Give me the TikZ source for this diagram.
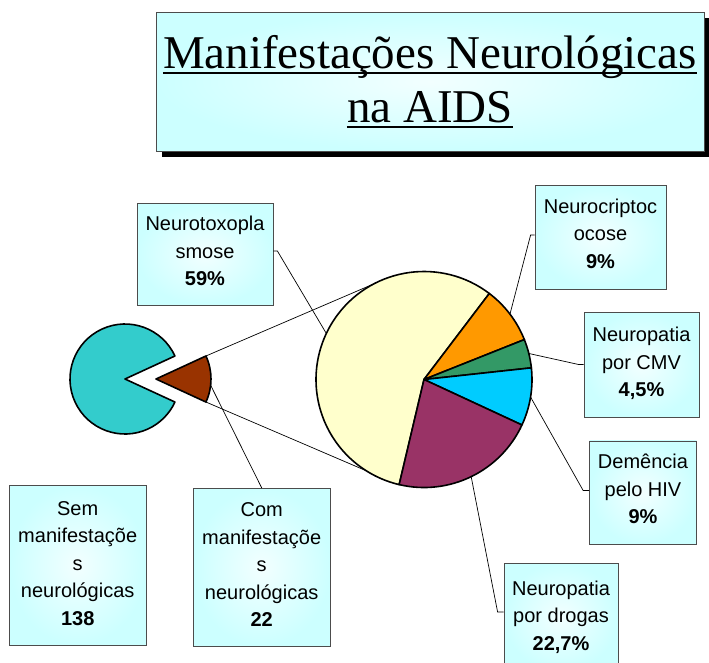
\documentclass[tikz,border=0pt]{standalone}
\usepackage{fontspec}
\setmainfont{Liberation Sans}
\newfontfamily\titlefont{Liberation Serif}
\usetikzlibrary{calc}
\definecolor{boxout}{HTML}{CCFFFF}
\definecolor{boxin}{HTML}{F2FFFF}
\definecolor{pyellow}{HTML}{FFFFCC}
\definecolor{porange}{HTML}{FF9900}
\definecolor{pgreen}{HTML}{339966}
\definecolor{pcyan}{HTML}{00CCFF}
\definecolor{ppurple}{HTML}{993366}
\definecolor{lteal}{HTML}{33CCCC}
\definecolor{lbrown}{HTML}{993300}
\begin{document}
\begin{tikzpicture}[x=1pt,y=-1pt,
  box/.style={draw=black!70, line width=0.8pt, inner color=boxin, outer color=boxout, inner sep=0},
  lbl/.style={font=\fontsize{20}{27.5}\selectfont, align=center, inner sep=0, anchor=north},
  leader/.style={draw=black, line width=0.7pt},
  slice/.style={draw=black, line width=1.6pt, line join=round},
  ttl/.style={font=\titlefont\fontsize{47}{56}\selectfont, inner sep=0, anchor=base}]
\useasboundingbox (0,0) rectangle (709,662);

% title
\fill[black] (162,18) rectangle (712,157);
\node[box, minimum width=548pt, minimum height=139pt] (tbox) at (430,81.5) {};
\node[ttl] (t1) at (430,68) {Manifestações Neurológicas};
\node[ttl] (t2) at (430,122) {na AIDS};
\draw[line width=1.6pt] ([yshift=-5pt]t1.base west) -- ([yshift=-5pt]t1.base east);
\draw[line width=1.6pt] ([yshift=-5pt]t2.base west) -- ([yshift=-5pt]t2.base east);

% centres
\coordinate (pc) at (424,379.5);
\coordinate (tc) at (125,379);
\coordinate (bc) at (156,379);

% connectors between the pies
\coordinate (bU) at ($(bc)+(24.75:55pt)$);
\coordinate (bL) at ($(bc)+(-24.75:55pt)$);
\coordinate (pU) at ($(pc)+(117.6:108pt)$);
\coordinate (pL) at ($(pc)+(237.7:108pt)$);
\draw[leader] (bU) -- (pU);
\draw[leader] (bL) -- (pL);

% left pie
\filldraw[slice, fill=lteal] (tc) -- ($(tc)+(24.75:55pt)$) arc[start angle=24.75, end angle=335.25, radius=55pt] -- cycle;
\filldraw[slice, fill=lbrown] (bc) -- ($(bc)+(-24.75:55pt)$) arc[start angle=-24.75, end angle=24.75, radius=55pt] -- cycle;

% big pie
\filldraw[slice, fill=pyellow] (pc) -- ($(pc)+(52.8:108pt)$) arc[start angle=52.8, end angle=256.7, radius=108pt] -- cycle;
\filldraw[slice, fill=porange] (pc) -- ($(pc)+(21.7:108pt)$) arc[start angle=21.7, end angle=52.8, radius=108pt] -- cycle;
\filldraw[slice, fill=pgreen] (pc) -- ($(pc)+(6.2:108pt)$) arc[start angle=6.2, end angle=21.7, radius=108pt] -- cycle;
\filldraw[slice, fill=pcyan] (pc) -- ($(pc)+(-24.9:108pt)$) arc[start angle=-24.9, end angle=6.2, radius=108pt] -- cycle;
\filldraw[slice, fill=ppurple] (pc) -- ($(pc)+(-103.3:108pt)$) arc[start angle=-103.3, end angle=-24.9, radius=108pt] -- cycle;

% leader end points
\coordinate (eToxo) at ($(pc)+(154.75:108pt)$);
\coordinate (eCrip) at ($(pc)+(37.25:108pt)$);
\coordinate (eCMV) at ($(pc)+(13.95:108pt)$);
\coordinate (eDem) at ($(pc)+(-9.35:108pt)$);
\coordinate (eDrog) at ($(pc)+(-64.1:108pt)$);
\coordinate (eCom) at ($(bc)+(-6.5:55pt)$);

% label boxes
\node[box, minimum width=136pt, minimum height=102pt] (bToxo) at (205,254) {};
\node[box, minimum width=131pt, minimum height=104pt] (bCrip) at (600.5,237) {};
\node[box, minimum width=115pt, minimum height=105pt] (bCMV) at (641.5,364.5) {};
\node[box, minimum width=107pt, minimum height=103pt] (bDem) at (643,492.4) {};
\node[box, minimum width=114pt, minimum height=108pt] (bDrog) at (561,617) {};
\node[box, minimum width=137pt, minimum height=160pt] (bSem) at (77.7,565) {};
\node[box, minimum width=137pt, minimum height=158pt] (bCom) at (261.7,567.3) {};

% texts
\node[lbl] (xToxo) at (205,215.7) {\rule{0pt}{15pt}Neurotoxopla\\smose\\\textbf{59\%}};
\node[lbl] (xCrip) at (600.5,198) {\rule{0pt}{15pt}Neurocriptoc\\ocose\\\textbf{9\%}};
\node[lbl] (xCMV) at (641.5,326.7) {\rule{0pt}{15pt}Neuropatia\\por CMV\\\textbf{4,5\%}};
\node[lbl] (xDem) at (643,453.3) {\rule{0pt}{15pt}Demência\\pelo HIV\\\textbf{9\%}};
\node[lbl] (xDrog) at (561,580) {\rule{0pt}{15pt}Neuropatia\\por drogas\\\textbf{22,7\%}};
\node[lbl] (xSem) at (77.7,500) {\rule{0pt}{15pt}Sem\\manifestaçõe\\s\\neurológicas\\\textbf{138}};
\node[lbl] (xCom) at (261.7,501.7) {\rule{0pt}{15pt}Com\\manifestaçõe\\s\\neurológicas\\\textbf{22}};

% leaders
\draw[leader] ([yshift=3pt]bToxo.east) -- ++(4,0) -- (eToxo);
\draw[leader] ([yshift=2pt]bCrip.west) -- ++(-4,0) -- (eCrip);
\draw[leader] (bCMV.west) -- ++(-5,0) -- (eCMV);
\draw[leader] ([yshift=2pt]bDem.west) -- ++(-6,0) -- (eDem);
\draw[leader] ([yshift=5pt]bDrog.west) -- ++(-6,0) -- (eDrog);
\draw[leader] (bCom.north) -- (eCom);
\end{tikzpicture}
\end{document}
